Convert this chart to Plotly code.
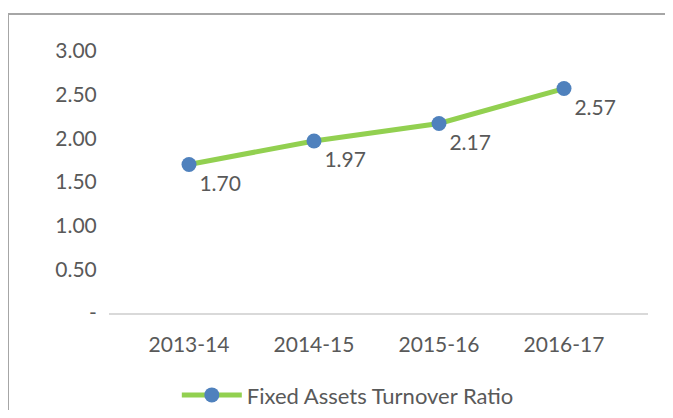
import plotly.graph_objects as go

years = ["2013-14", "2014-15", "2015-16", "2016-17"]
ratio = [1.70, 1.97, 2.17, 2.57]
y_ticks = [0, 0.5, 1.0, 1.5, 2.0, 2.5, 3.0]
y_tick_text = ["-", "0.50", "1.00", "1.50", "2.00", "2.50", "3.00"]

FONT = "Lato"
GREY = "#595959"

fig = go.Figure()

fig.add_trace(
    go.Scatter(
        x=list(range(len(years))),
        y=ratio,
        mode="lines+markers+text",
        name="Fixed Assets Turnover Ratio",
        line=dict(color="#92D050", width=5),
        marker=dict(color="#4F81BD", size=15),
        text=[f"{v:.2f}" for v in ratio],
        textposition="bottom right",
        textfont=dict(family=FONT, size=21, color=GREY),
    )
)

# chart-area border (left and top edges only visible in the picture)
border = "M -0.1874,-0.6 L -0.1874,1.141 L 1.3,1.141"

fig.update_layout(
    width=665,
    height=402,
    margin=dict(l=101, r=25, t=43, b=97),
    paper_bgcolor="white",
    plot_bgcolor="white",
    font=dict(family=FONT, size=21, color=GREY),
    showlegend=True,
    legend=dict(
        orientation="h",
        xref="container",
        yref="container",
        x=0.511,
        xanchor="center",
        y=0.037,
        yanchor="middle",
        itemwidth=60,
        font=dict(family=FONT, size=22, color=GREY),
    ),
    shapes=[
        dict(
            type="path",
            xref="paper",
            yref="paper",
            path=border,
            line=dict(color="#A6A6A6", width=2),
        )
    ],
)

fig.update_xaxes(
    range=[-0.64, 3.672],
    tickvals=list(range(len(years))),
    ticktext=years,
    showline=True,
    linecolor="#D9D9D9",
    linewidth=2,
    showgrid=False,
    zeroline=False,
    ticks="outside",
    ticklen=12,
    tickcolor="rgba(0,0,0,0)",
)

fig.update_yaxes(
    range=[0, 3.0],
    tickvals=y_ticks,
    ticktext=y_tick_text,
    showgrid=False,
    zeroline=False,
    showline=False,
    ticks="outside",
    ticklen=7,
    tickcolor="rgba(0,0,0,0)",
)

fig.write_html("out.html")
